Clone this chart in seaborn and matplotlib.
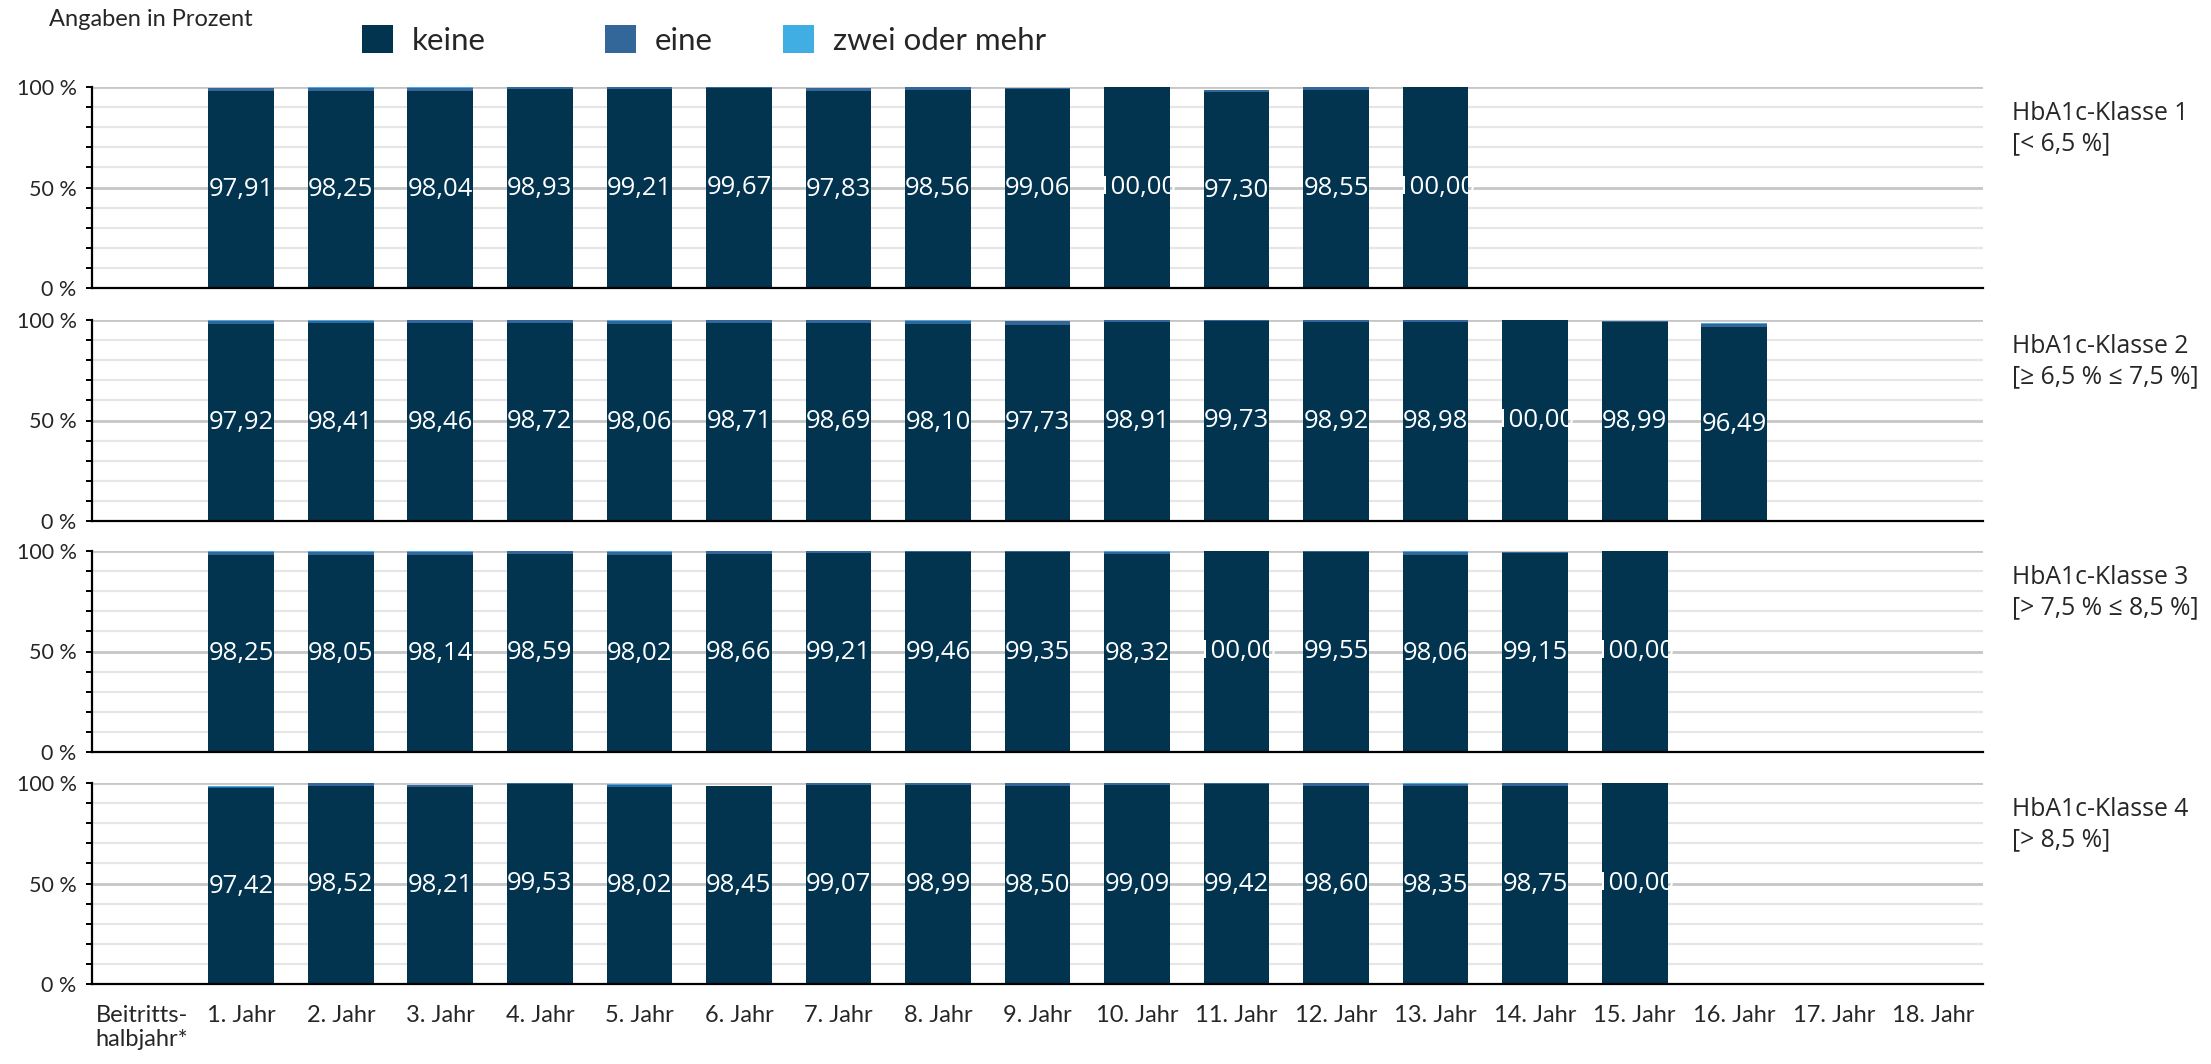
import numpy as np
import pandas as pd
import seaborn as sns
import matplotlib.pyplot as plt
from matplotlib.patches import Patch
from matplotlib.ticker import MultipleLocator, FixedLocator, FuncFormatter

# Kategorien der x-Achse
kategorien = ["Beitritts-\nhalbjahr*", "1. Jahr", "2. Jahr", "3. Jahr", "4. Jahr", "5. Jahr",
              "6. Jahr", "7. Jahr", "8. Jahr", "9. Jahr", "10. Jahr", "11. Jahr", "12. Jahr",
              "13. Jahr", "14. Jahr", "15. Jahr", "16. Jahr", "17. Jahr", "18. Jahr"]

klassen = ["HbA1c-Klasse 1\n[< 6,5 %]",
           "HbA1c-Klasse 2\n[\u2265 6,5 % \u2264 7,5 %]",
           "HbA1c-Klasse 3\n[> 7,5 % \u2264 8,5 %]",
           "HbA1c-Klasse 4\n[> 8,5 %]"]

serien = ["keine", "eine", "zwei oder mehr"]

# Werte ab "1. Jahr" (Beitrittshalbjahr ohne Daten)
keine_k1 = [97.91, 98.25, 98.04, 98.93, 99.21, 99.67, 97.83, 98.56, 99.06, 100.00, 97.30, 98.55, 100.00]
eine_k1 = [1.55, 1.45, 1.60, 0.90, 0.65, 0.28, 1.55, 1.30, 0.30, 0.00, 1.25, 1.30, 0.00]
zwei_k1 = [0.25, 0.25, 0.30, 0.12, 0.10, 0.05, 0.30, 0.14, 0.12, 0.00, 0.20, 0.15, 0.00]

keine_k2 = [97.92, 98.41, 98.46, 98.72, 98.06, 98.71, 98.69, 98.10, 97.73, 98.91, 99.73, 98.92, 98.98,
            100.00, 98.99, 96.49]
eine_k2 = [1.60, 1.30, 1.30, 1.10, 1.65, 1.10, 1.10, 1.55, 1.70, 0.90, 0.27, 0.90, 0.80, 0.00, 0.35, 1.70]
zwei_k2 = [0.30, 0.25, 0.20, 0.18, 0.29, 0.19, 0.21, 0.30, 0.25, 0.19, 0.00, 0.18, 0.22, 0.00, 0.15, 0.25]

keine_k3 = [98.25, 98.05, 98.14, 98.59, 98.02, 98.66, 99.21, 99.46, 99.35, 98.32, 100.00, 99.55, 98.06,
            99.15, 100.00]
eine_k3 = [1.50, 1.70, 1.60, 1.20, 1.70, 1.10, 0.60, 0.40, 0.45, 1.40, 0.00, 0.40, 1.60, 0.30, 0.00]
zwei_k3 = [0.25, 0.25, 0.26, 0.21, 0.28, 0.24, 0.19, 0.14, 0.15, 0.28, 0.00, 0.05, 0.34, 0.10, 0.00]

keine_k4 = [97.42, 98.52, 98.21, 99.53, 98.02, 98.45, 99.07, 98.99, 98.50, 99.09, 99.42, 98.60, 98.35,
            98.75, 100.00]
eine_k4 = [0.80, 1.30, 0.80, 0.40, 1.20, 0.00, 0.80, 0.80, 1.30, 0.70, 0.50, 1.20, 1.40, 1.10, 0.00]
zwei_k4 = [0.30, 0.18, 0.20, 0.07, 0.30, 0.00, 0.13, 0.20, 0.20, 0.20, 0.08, 0.20, 0.25, 0.15, 0.00]

werte = [(keine_k1, eine_k1, zwei_k1), (keine_k2, eine_k2, zwei_k2),
         (keine_k3, eine_k3, zwei_k3), (keine_k4, eine_k4, zwei_k4)]

farben = ["#02344F", "#336699", "#41AEE3"]

sns.set_theme(style="white")
plt.rcParams["font.family"] = ["Lato", "DejaVu Sans"]

W, H = 2211, 1064
fig = plt.figure(figsize=(W / 100, H / 100), dpi=100)

links, rechts = 92, 1983
oben = [87, 320, 551, 783]
hoehe = 201

for i, (keine, eine, zwei) in enumerate(werte):
    ax = fig.add_axes([links / W, 1 - (oben[i] + hoehe) / H, (rechts - links) / W, hoehe / H])
    n = len(keine)
    df = pd.DataFrame({"jahr": kategorien[1:n + 1], "keine": keine, "eine": eine, "zwei": zwei})
    df["keine_eine"] = df["keine"] + df["eine"]
    df["gesamt"] = df["keine_eine"] + df["zwei"]

    # gestapelte Balken: Summen übereinander zeichnen
    for spalte, farbe in zip(["gesamt", "keine_eine", "keine"], farben[::-1]):
        sns.barplot(data=df, x="jahr", y=spalte, order=kategorien, color=farbe,
                    saturation=1, width=0.66, errorbar=None, linewidth=0, ax=ax)

    for p in ax.containers[-1]:
        h = p.get_height()
        ax.text(p.get_x() + p.get_width() / 2, h / 2, f"{h:.2f}".replace(".", ","),
                ha="center", va="center", color="white", fontsize=18.5,
                family=["Open Sans", "DejaVu Sans"])

    ax.set_ylim(0, 100)
    ax.set_xlim(-0.5, len(kategorien) - 0.5)
    ax.yaxis.set_major_locator(FixedLocator([0, 50, 100]))
    ax.yaxis.set_minor_locator(MultipleLocator(10))
    ax.yaxis.set_major_formatter(FuncFormatter(lambda v, pos: f"{v:.0f} %"))
    ax.set_axisbelow(True)
    ax.yaxis.grid(True, which="major", color="#C6C6C6", lw=2)
    ax.yaxis.grid(True, which="minor", color="#E6E6E6", lw=1.6)
    ax.xaxis.grid(False)
    for s in ["top", "right"]:
        ax.spines[s].set_visible(False)
    for s in ["left", "bottom"]:
        ax.spines[s].set_color("black")
        ax.spines[s].set_linewidth(1.6)
    ax.tick_params(axis="y", which="both", direction="out", length=4, width=1.4,
                   color="black", left=True, labelsize=15.5, pad=7)
    ax.tick_params(axis="x", length=0, labelsize=17, pad=15)
    ax.set_xlabel("")
    ax.set_ylabel("")
    if i < 3:
        ax.tick_params(axis="x", labelbottom=False)
    else:
        for t in ax.get_xticklabels():
            t.set_multialignment("left")

    ax.text(1.0155, 0.93, klassen[i], transform=ax.transAxes, ha="left", va="top",
            fontsize=17.8, linespacing=1.25, family=["Open Sans", "DejaVu Sans"])

fig.text(49 / W, 1 - 20 / H, "Angaben in Prozent", fontsize=17, ha="left", va="center")

# Legende: jeder Eintrag an seiner eigenen Position
for x_px, farbe, name in zip([362, 605, 783], farben, serien):
    fig.legend([Patch(facecolor=farbe, edgecolor="none")], [name], loc="center left",
               bbox_to_anchor=(x_px / W, 1 - 40 / H), frameon=False, fontsize=22.5,
               borderpad=0, borderaxespad=0, handlelength=1.0, handleheight=1.0,
               handletextpad=0.6)

fig.savefig("out.png", dpi=100)
